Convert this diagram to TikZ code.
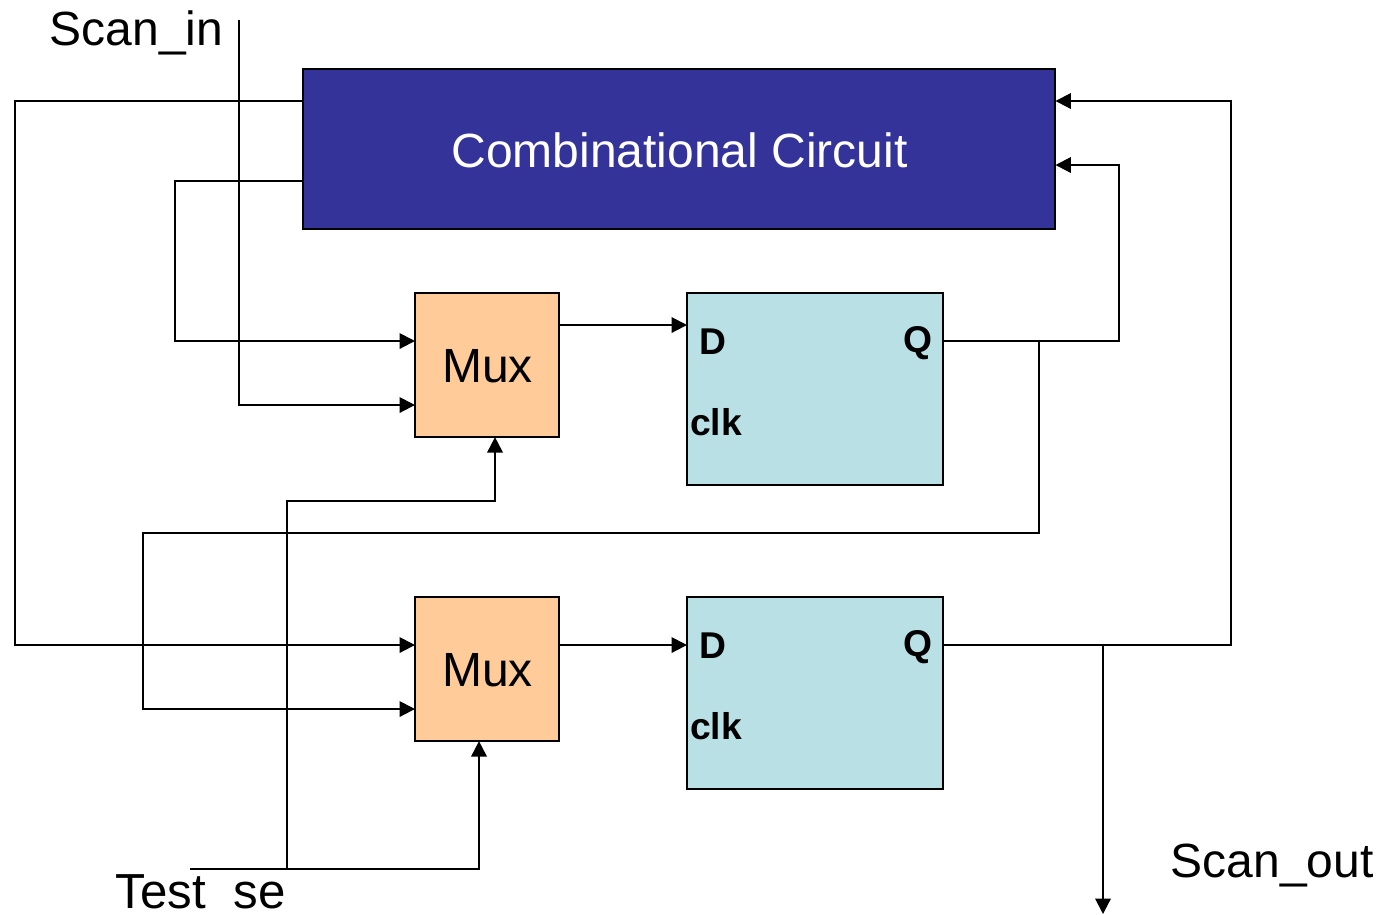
\documentclass[tikz,border=0pt]{standalone}
\usepackage{fontspec}
\setmainfont{Liberation Sans}
\usetikzlibrary{arrows.meta, positioning, calc}
\definecolor{combblue}{RGB}{51, 51, 153}
\definecolor{muxorange}{RGB}{255, 204, 153}
\definecolor{fftint}{RGB}{185, 224, 228}
\tikzset{
    block/.style={draw=black, line width=0.57pt, inner sep=0pt, outer sep=0pt, anchor=north west},
    wire/.style={line width=0.57pt, -{Triangle[length=4.4pt, width=4.4pt]}},
    biglabel/.style={font=\fontsize{13.65}{16}\selectfont, inner sep=0pt},
    pinlabel/.style={font=\fontsize{10.6}{12}\selectfont\bfseries, inner sep=0pt}
}

\begin{document}
\begin{tikzpicture}[x=0.01cm, y=-0.01cm]
        \useasboundingbox (0,0) rectangle (1380,914);
        % blocks
        \node[block, fill=combblue, minimum width=7.52cm, minimum height=1.6cm] (comb) at (303,69) {};
        \node[text=white, biglabel] (combtext) at (679.5,150) {Combinational Circuit};
        \foreach \name/\y in {muxa/293, muxb/597}
        {
            \node[block, fill=muxorange, minimum width=1.44cm, minimum height=1.44cm] (\name) at (415,\y) {};
            \node[biglabel] (\name text) at (487.5,\y+73.5) {Mux};
        }
        \foreach \name/\y in {ffa/293, ffb/597}
        {
            \node[block, fill=fftint, minimum width=2.56cm, minimum height=1.92cm] (\name) at (687,\y) {};
            \node[pinlabel] (\name d) at (712.5,\y+49) {D};
            \node[pinlabel] (\name q) at (917.5,\y+50) {Q};
            \node[pinlabel] (\name clk) at (716,\y+129.5) {clk};
        }
        % labels
        \node[biglabel] (scanin) at (136.5,33) {Scan\_in};
        \node[biglabel, anchor=west, font=\fontsize{14}{16}\selectfont] (testse) at (115,892) {Test\hspace{7.8pt}se};
        \node[biglabel] (scanout) at (1272,865) {Scan\_out};
        % free ends
        \coordinate (scaninstart) at (239,20);
        \coordinate (testsestart) at (190,869);
        \coordinate (scanoutend) at (1103,914);
        % wires
        \draw[wire] (scaninstart) |- ($(muxa.north west)+(0,112)$);
        \draw[wire] ($(comb.north west)+(0,112)$) -| (175,341) -- ($(muxa.north west)+(0,48)$);
        \draw[wire] ($(comb.north west)+(0,32)$) -| (15,645) -- ($(muxb.north west)+(0,48)$);
        \draw[wire] ($(muxa.north west)+(144,32)$) -- ($(ffa.north west)+(0,32)$);
        \draw[wire] ($(muxb.north west)+(144,48)$) -- ($(ffb.north west)+(0,48)$);
        \draw[wire] ($(ffa.north east)+(0,48)$) -| (1119,165) -- ($(comb.north east)+(0,96)$);
        \draw[wire] ($(ffb.north east)+(0,48)$) -| (1231,101) -- ($(comb.north east)+(0,32)$);
        \draw[wire] (1103,645) -- (scanoutend);
        \draw[wire] (1039,341) |- (143,533) |- ($(muxb.north west)+(0,112)$);
        \draw[wire] (testsestart) -| ($(muxb.south west)+(64,0)$);
        \draw[wire] (287,869) |- (495,501) -- ($(muxa.south west)+(80,0)$);
    \end{tikzpicture}
\end{document}
